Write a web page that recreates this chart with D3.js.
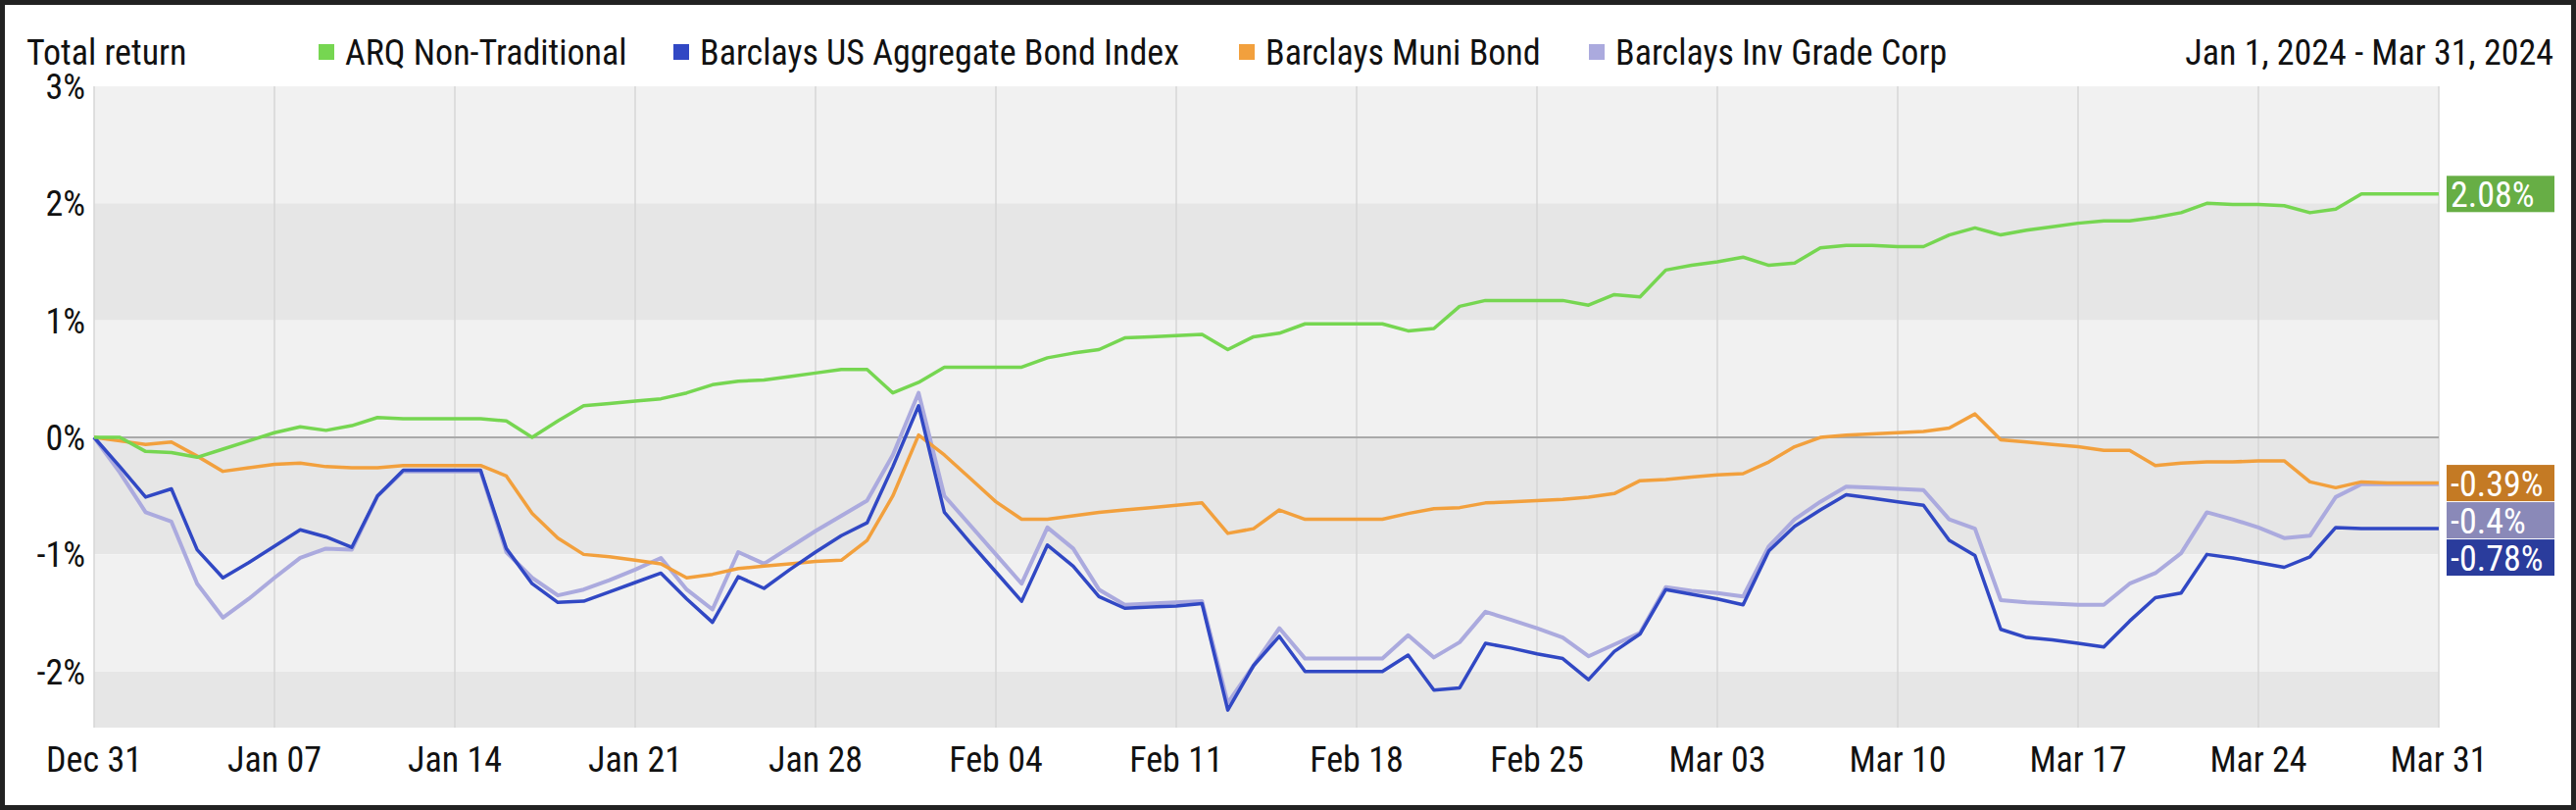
<!DOCTYPE html>
<html><head><meta charset="utf-8">
<script src="https://cdn.jsdelivr.net/npm/d3@7"></script>
<style>body{margin:0;background:#222}svg{display:block}</style>
</head><body><svg id="c" width="2628" height="826"></svg>
<script>
const startDate = "2023-12-31";
const xTickLabels = ["Dec 31","Jan 07","Jan 14","Jan 21","Jan 28","Feb 04","Feb 11","Feb 18","Feb 25","Mar 03","Mar 10","Mar 17","Mar 24","Mar 31"];
const yTicks = [3,2,1,0,-1,-2];
const seriesNames = ["ARQ Non-Traditional","Barclays US Aggregate Bond Index","Barclays Muni Bond","Barclays Inv Grade Corp"];
const arq = [0,0,-0.12,-0.13,-0.17,-0.1,-0.03,0.04,0.09,0.06,0.1,0.17,0.16,0.16,0.16,0.16,0.14,0,0.14,0.27,0.29,0.31,0.33,0.38,0.45,0.48,0.49,0.52,0.55,0.58,0.58,0.38,0.47,0.6,0.6,0.6,0.6,0.68,0.72,0.75,0.85,0.86,0.87,0.88,0.75,0.86,0.89,0.97,0.97,0.97,0.97,0.91,0.93,1.12,1.17,1.17,1.17,1.17,1.13,1.22,1.2,1.43,1.47,1.5,1.54,1.47,1.49,1.62,1.64,1.64,1.63,1.63,1.73,1.79,1.73,1.77,1.8,1.83,1.85,1.85,1.88,1.92,2.0,1.99,1.99,1.98,1.92,1.95,2.08,2.08,2.08,2.08];
const agg = [0,-0.25,-0.51,-0.44,-0.96,-1.2,-1.07,-0.93,-0.79,-0.85,-0.94,-0.5,-0.28,-0.28,-0.28,-0.28,-0.95,-1.25,-1.41,-1.4,-1.32,-1.24,-1.16,-1.38,-1.58,-1.19,-1.29,-1.13,-0.98,-0.84,-0.73,-0.25,0.27,-0.64,-0.9,-1.15,-1.4,-0.92,-1.1,-1.36,-1.46,-1.45,-1.44,-1.42,-2.33,-1.95,-1.7,-2.0,-2.0,-2.0,-2.0,-1.86,-2.16,-2.14,-1.76,-1.8,-1.85,-1.89,-2.07,-1.83,-1.68,-1.3,-1.34,-1.38,-1.43,-0.97,-0.76,-0.62,-0.49,-0.52,-0.55,-0.58,-0.88,-1.01,-1.64,-1.71,-1.73,-1.76,-1.79,-1.57,-1.37,-1.33,-1.0,-1.03,-1.07,-1.11,-1.02,-0.77,-0.78,-0.78,-0.78,-0.78];
const muni = [0,-0.03,-0.06,-0.04,-0.16,-0.29,-0.26,-0.23,-0.22,-0.25,-0.26,-0.26,-0.24,-0.24,-0.24,-0.24,-0.33,-0.65,-0.86,-1.0,-1.02,-1.05,-1.08,-1.2,-1.17,-1.12,-1.1,-1.08,-1.06,-1.05,-0.88,-0.5,0.02,-0.15,-0.35,-0.55,-0.7,-0.7,-0.67,-0.64,-0.62,-0.6,-0.58,-0.56,-0.82,-0.78,-0.62,-0.7,-0.7,-0.7,-0.7,-0.65,-0.61,-0.6,-0.56,-0.55,-0.54,-0.53,-0.51,-0.48,-0.37,-0.36,-0.34,-0.32,-0.31,-0.21,-0.08,0,0.02,0.03,0.04,0.05,0.08,0.2,-0.02,-0.04,-0.06,-0.08,-0.11,-0.11,-0.24,-0.22,-0.21,-0.21,-0.2,-0.2,-0.38,-0.43,-0.38,-0.39,-0.39,-0.39];
const igc = [0,-0.3,-0.64,-0.72,-1.25,-1.54,-1.38,-1.2,-1.03,-0.95,-0.96,-0.5,-0.29,-0.29,-0.29,-0.29,-0.98,-1.2,-1.35,-1.3,-1.22,-1.13,-1.03,-1.3,-1.47,-0.98,-1.08,-0.94,-0.8,-0.67,-0.54,-0.15,0.38,-0.5,-0.75,-1.0,-1.25,-0.77,-0.95,-1.3,-1.43,-1.42,-1.41,-1.4,-2.27,-1.95,-1.63,-1.89,-1.89,-1.89,-1.89,-1.69,-1.88,-1.75,-1.49,-1.56,-1.63,-1.71,-1.87,-1.77,-1.67,-1.28,-1.31,-1.33,-1.36,-0.93,-0.7,-0.55,-0.42,-0.43,-0.44,-0.45,-0.7,-0.78,-1.39,-1.41,-1.42,-1.43,-1.43,-1.25,-1.16,-0.99,-0.64,-0.7,-0.77,-0.86,-0.84,-0.51,-0.4,-0.4,-0.4,-0.4];
const endLabels = ["2.08%","-0.78%","-0.39%","-0.4%"];
const lineColors = ["#76d651","#3148c4","#f2a03d","#abaade"];
const boxColors = ["#67ae45","#2a3c9c","#c47a24","#8a89b8"];

const svg = d3.select("#c");
const FONT = "'Liberation Sans Narrow','Roboto Condensed',Roboto,sans-serif";
const FS = 36;
svg.append("rect").attr("x",5).attr("y",5).attr("width",2618).attr("height",816).attr("fill","#fff");
const L=96,R=2488,T=88,B=742;
const t0 = d3.utcParse("%Y-%m-%d")(startDate);
const dates = arq.map((_,i)=>d3.utcDay.offset(t0,i));
const x = d3.scaleUtc().domain([dates[0],dates[dates.length-1]]).range([L,R]);
const y = d3.scaleLinear().domain([-2.48,3]).range([B,T]);
const bands=[[3,2,"#f1f1f1"],[2,1,"#e6e6e6"],[1,0,"#f1f1f1"],[0,-1,"#e6e6e6"],[-1,-2,"#f1f1f1"],[-2,-2.48,"#e6e6e6"]];
svg.selectAll(".band").data(bands).join("rect").attr("x",L).attr("width",R-L)
  .attr("y",d=>y(d[0])).attr("height",d=>y(d[1])-y(d[0])).attr("fill",d=>d[2]);
const tickDates = xTickLabels.map((_,i)=>d3.utcDay.offset(t0,i*7));
svg.selectAll(".vg").data(tickDates).join("line").attr("x1",d=>x(d)).attr("x2",d=>x(d))
  .attr("y1",T).attr("y2",B).attr("stroke","#d6d6d6").attr("stroke-width",1.5);
svg.append("line").attr("x1",L).attr("x2",R).attr("y1",y(0)).attr("y2",y(0)).attr("stroke","#aaa").attr("stroke-width",2);
svg.selectAll(".xl").data(tickDates).join("text").attr("x",d=>x(d)).attr("y",787)
  .attr("text-anchor","middle").attr("font-family",FONT).attr("font-size",FS).attr("fill","#111")
  .text((d,i)=>xTickLabels[i]);
svg.selectAll(".yl").data(yTicks).join("text").attr("x",87).attr("y",d=>y(d)+13)
  .attr("text-anchor","end").attr("font-family",FONT).attr("font-size",FS).attr("fill","#111")
  .text(d=>d+"%");
const all=[arq,agg,muni,igc];
const line=d3.line().x((d,i)=>x(dates[i])).y(d=>y(d));
[3,2,1,0].forEach(k=>{
  svg.append("path").datum(all[k]).attr("d",line).attr("fill","none")
    .attr("stroke",lineColors[k]).attr("stroke-width",k===3?4:3.5).attr("stroke-linejoin","round");
});
// end labels with dodge
const H=37;
const labs = all.map((s,k)=>({k, v:s[s.length-1], cy:y(s[s.length-1])}))
  .sort((a,b)=>a.cy-b.cy || a.v-b.v);
labs.sort((a,b)=> a.cy-b.cy || (b.v-a.v));
for(let i=1;i<labs.length;i++){ if(labs[i].cy-labs[i-1].cy<H+1) labs[i].cy=labs[i-1].cy+H+1; }
// shift cluster up so it centers around data
labs.forEach(l=>{
  svg.append("rect").attr("x",2496).attr("y",l.cy-H/2).attr("width",110).attr("height",H).attr("fill",boxColors[l.k]);
  svg.append("text").attr("x",2500).attr("y",l.cy+13).attr("font-family",FONT).attr("font-size",FS)
    .attr("fill","#fff").text(endLabels[l.k]);
});
// header
svg.append("text").attr("x",27).attr("y",66).attr("font-family",FONT).attr("font-size",FS).attr("fill","#111").text("Total return");
const legX=[325,687,1264,1621];
seriesNames.forEach((n,k)=>{
  svg.append("rect").attr("x",legX[k]).attr("y",45).attr("width",16).attr("height",16).attr("fill",lineColors[k]);
  svg.append("text").attr("x",legX[k]+27).attr("y",66).attr("font-family",FONT).attr("font-size",FS).attr("fill","#111").text(n);
});
svg.append("text").attr("x",2605).attr("y",66).attr("text-anchor","end").attr("font-family",FONT).attr("font-size",FS).attr("fill","#111").text("Jan 1, 2024 - Mar 31, 2024");
</script></body></html>
